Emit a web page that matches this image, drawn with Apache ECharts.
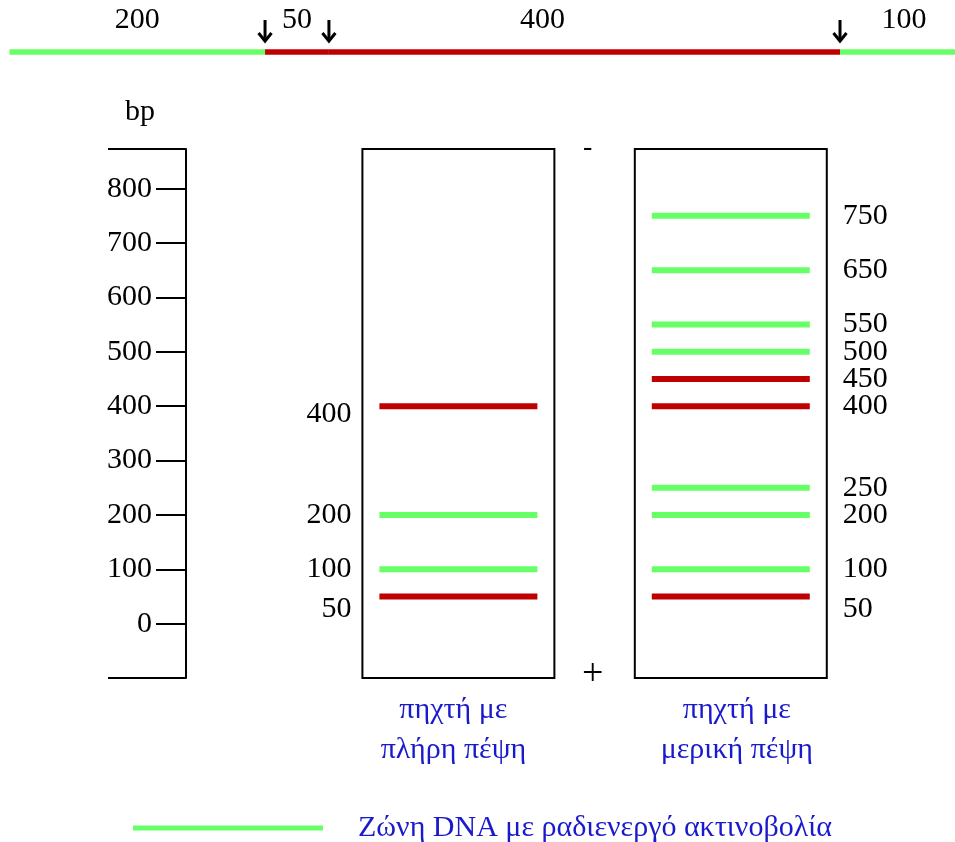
<!DOCTYPE html>
<html>
<head>
<meta charset="utf-8">
<script src="https://cdn.jsdelivr.net/npm/echarts@6/dist/echarts.min.js"></script>
<style>
html,body{margin:0;padding:0;background:#fff;}
#c{width:955px;height:842px;}
</style>
</head>
<body>
<div id="c"></div>
<script>
// ---------------- data ----------------
const segmentLengths = [200, 50, 400, 100];          // restriction map fragments (bp)
const segmentRadioactive = [1, 0, 0, 1];             // 1 = labelled end fragment
const laneNames = [['πηχτή με', 'πλήρη πέψη'], ['πηχτή με', 'μερική πέψη']];
const fullDigestBands = [400, 200, 100, 50];
const fullDigestRadioactive = [0, 1, 1, 0];
const partialDigestBands = [750, 650, 550, 500, 450, 400, 250, 200, 100, 50];
const partialDigestRadioactive = [1, 1, 1, 1, 0, 0, 1, 1, 1, 0];
const bpTicks = [0, 100, 200, 300, 400, 500, 600, 700, 800];
const axisName = 'bp';
const legendLabel = 'Ζώνη DNA με ραδιενεργό ακτινοβολία';
const otherBandLabel = 'Ζώνη DNA χωρίς ραδιενέργεια';
const electrodeSigns = ['-', '+'];

// ---------------- styles ----------------
const GREEN = '#66ff66', RED = '#c00000', BLUE = '#1a1acd', BLACK = '#000000';
const FONT = '"Liberation Serif", "DejaVu Serif", serif';
const NUM_SIZE = 30;
const Y_MIN = -100, Y_MAX = 873;
const BAND_HALF = 0.29, BOX_HALF = 0.3524;

// ---------------- derived ----------------
const segStarts = [];
let acc = 0;
segmentLengths.forEach(l => { segStarts.push(acc); acc += l; });
const segData = segmentLengths.map((l, i) => [segStarts[i], segStarts[i] + l, segmentRadioactive[i], l]);
const cutSites = segData.slice(0, -1).map(d => [d[1]]);

const greenBands = [], redBands = [], bandLabels = [];
[[fullDigestBands, fullDigestRadioactive], [partialDigestBands, partialDigestRadioactive]].forEach((lane, li) => {
  lane[0].forEach((bp, i) => {
    (lane[1][i] ? greenBands : redBands).push([li + 1, bp]);
    bandLabels.push([li + 1, bp]);
  });
});
const laneBoxes = laneNames.map((n, i) => [i + 1]);

// label nudges (pixels) for crowded labels
function labelNudge(lane, bp) {
  if (bp === 50) return 13;
  if (lane === 1 && bp === 400) return 8;
  return 0;
}
function stripLabelNudge(len) { return len === 400 ? -42 : 0; }

function bandRender(color) {
  return function (params, api) {
    const lane = api.value(0), bp = api.value(1);
    const a = api.coord([lane - BAND_HALF, bp]);
    const b = api.coord([lane + BAND_HALF, bp]);
    return { type: 'line', shape: { x1: a[0], y1: a[1], x2: b[0], y2: b[1] },
      style: { stroke: color, lineWidth: 6 } };
  };
}

const chart = echarts.init(document.getElementById('c'), null, { renderer: 'canvas' });
chart.setOption({
  animation: false,
  backgroundColor: '#fff',
  grid: [
    { left: 9.5, right: 0, top: 30, height: 44 },
    { left: 186, right: 88, top: 149, bottom: 164 }
  ],
  xAxis: [
    { gridIndex: 0, type: 'value', min: 0, max: 740, show: false },
    { gridIndex: 1, type: 'value', min: 0, max: 2.5, interval: 1,
      axisLine: { show: false }, axisTick: { show: false }, splitLine: { show: false },
      axisLabel: {
        customValues: [1, 2],
        formatter: v => {
          if (v !== 1 && v !== 2) return '';
          const k = v === 1 ? 'a' : 'b';
          return laneNames[v - 1].map(s => '{' + k + '|' + s + '}').join('\n');
        },
        color: BLUE, fontFamily: FONT, fontSize: 30, lineHeight: 40,
        margin: 12, verticalAlign: 'top',
        rich: {
          a: { color: BLUE, fontFamily: FONT, fontSize: 30, lineHeight: 40, padding: [0, 10, 0, 0] },
          b: { color: BLUE, fontFamily: FONT, fontSize: 30, lineHeight: 40, padding: [0, 0, 0, 12] }
        }
      } }
  ],
  yAxis: [
    { gridIndex: 0, type: 'value', min: 0, max: 1, show: false },
    { gridIndex: 1, type: 'value', min: Y_MIN, max: Y_MAX, interval: 100,
      name: axisName, nameLocation: 'end', nameGap: 22,
      nameTextStyle: { color: BLACK, fontFamily: FONT, fontSize: NUM_SIZE, padding: [0, 92, 0, 0] },
      axisLine: { show: true, lineStyle: { color: BLACK, width: 2 } },
      axisTick: { show: true, length: 30, customValues: bpTicks, lineStyle: { color: BLACK, width: 2 } },
      splitLine: { show: false },
      axisLabel: {
        customValues: bpTicks,
        formatter: v => bpTicks.indexOf(v) >= 0 ? String(v) : '',
        color: BLACK, fontFamily: FONT, fontSize: NUM_SIZE, margin: 34
      } }
  ],
  legend: {
    left: 133, top: 813, padding: 0, selectedMode: false,
    itemWidth: 190, itemHeight: 5, icon: 'rect',
    data: [legendLabel],
    textStyle: { color: BLUE, fontFamily: FONT, fontSize: 30, padding: [0, 0, 0, 30] }
  },
  series: [
    // restriction map strip
    { type: 'custom', name: 'map', xAxisIndex: 0, yAxisIndex: 0, clip: false,
      data: segData,
      renderItem: (params, api) => {
        const a = api.coord([api.value(0), 0.5]);
        const b = api.coord([api.value(1), 0.5]);
        const mid = api.coord([(api.value(0) + api.value(1)) / 2, 0.5]);
        return { type: 'group', children: [
          { type: 'line', shape: { x1: a[0], y1: a[1], x2: b[0], y2: b[1] },
            style: { stroke: api.value(2) ? GREEN : RED, lineWidth: 5.5 } },
          { type: 'text', x: mid[0] + stripLabelNudge(api.value(3)), y: mid[1] - 32,
            style: { text: String(api.value(3)), fill: BLACK, font: NUM_SIZE + 'px ' + FONT,
              textAlign: 'center', textVerticalAlign: 'middle' } }
        ] };
      } },
    // cut-site arrows
    { type: 'custom', name: 'cuts', xAxisIndex: 0, yAxisIndex: 0, clip: false,
      data: cutSites,
      renderItem: (params, api) => {
        const p = api.coord([api.value(0), 0.5]);
        const x = p[0], y = p[1];
        return { type: 'group', children: [
          { type: 'line', shape: { x1: x, y1: y - 32, x2: x, y2: y - 11 }, style: { stroke: BLACK, lineWidth: 3 } },
          { type: 'polyline', shape: { points: [[x - 6.5, y - 19], [x, y - 11], [x + 6.5, y - 19]] },
            style: { stroke: BLACK, lineWidth: 3, fill: null } }
        ] };
      } },
    // axis frame horizontals
    { type: 'custom', name: 'frame', xAxisIndex: 1, yAxisIndex: 1, clip: false,
      data: [[Y_MAX], [Y_MIN]],
      renderItem: (params, api) => {
        const p = api.coord([0, api.value(0)]);
        return { type: 'line', shape: { x1: p[0] - 78, y1: p[1], x2: p[0], y2: p[1] },
          style: { stroke: BLACK, lineWidth: 2 } };
      } },
    // gel lanes
    { type: 'custom', name: 'lanes', xAxisIndex: 1, yAxisIndex: 1, clip: false,
      data: laneBoxes,
      renderItem: (params, api) => {
        const a = api.coord([api.value(0) - BOX_HALF, Y_MAX]);
        const b = api.coord([api.value(0) + BOX_HALF, Y_MIN]);
        return { type: 'rect', shape: { x: a[0], y: a[1], width: b[0] - a[0], height: b[1] - a[1] },
          style: { stroke: BLACK, lineWidth: 2, fill: null } };
      } },
    // bands
    { type: 'custom', name: legendLabel, xAxisIndex: 1, yAxisIndex: 1, itemStyle: { color: GREEN },
      data: greenBands, renderItem: bandRender(GREEN) },
    { type: 'custom', name: otherBandLabel, xAxisIndex: 1, yAxisIndex: 1, itemStyle: { color: RED },
      data: redBands, renderItem: bandRender(RED) },
    // band size labels
    { type: 'custom', name: 'sizes', xAxisIndex: 1, yAxisIndex: 1, clip: false,
      data: bandLabels,
      renderItem: (params, api) => {
        const lane = api.value(0), bp = api.value(1);
        const p = api.coord([lane, bp]);
        const left = lane === 1;
        return { type: 'text', x: left ? p[0] - 107 : p[0] + 112, y: p[1] + labelNudge(lane, bp),
          style: { text: String(bp), fill: BLACK, font: NUM_SIZE + 'px ' + FONT,
            textAlign: left ? 'right' : 'left', textVerticalAlign: 'middle' } };
      } },
    // electrode signs
    { type: 'custom', name: 'electrodes', xAxisIndex: 1, yAxisIndex: 1, clip: false,
      data: [[1.5, Y_MAX, 0], [1.5, Y_MIN, 1]],
      renderItem: (params, api) => {
        const p = api.coord([api.value(0), api.value(1)]);
        const plus = api.value(2) === 1;
        return { type: 'text', x: p[0] + (plus ? -2 : -7), y: p[1] + (plus ? -3 : -1),
          style: { text: electrodeSigns[api.value(2)], fill: BLACK, font: (plus ? 38 : 28) + 'px ' + FONT,
            textAlign: 'center', textVerticalAlign: 'middle' } };
      } }
  ]
});
</script>
</body>
</html>
